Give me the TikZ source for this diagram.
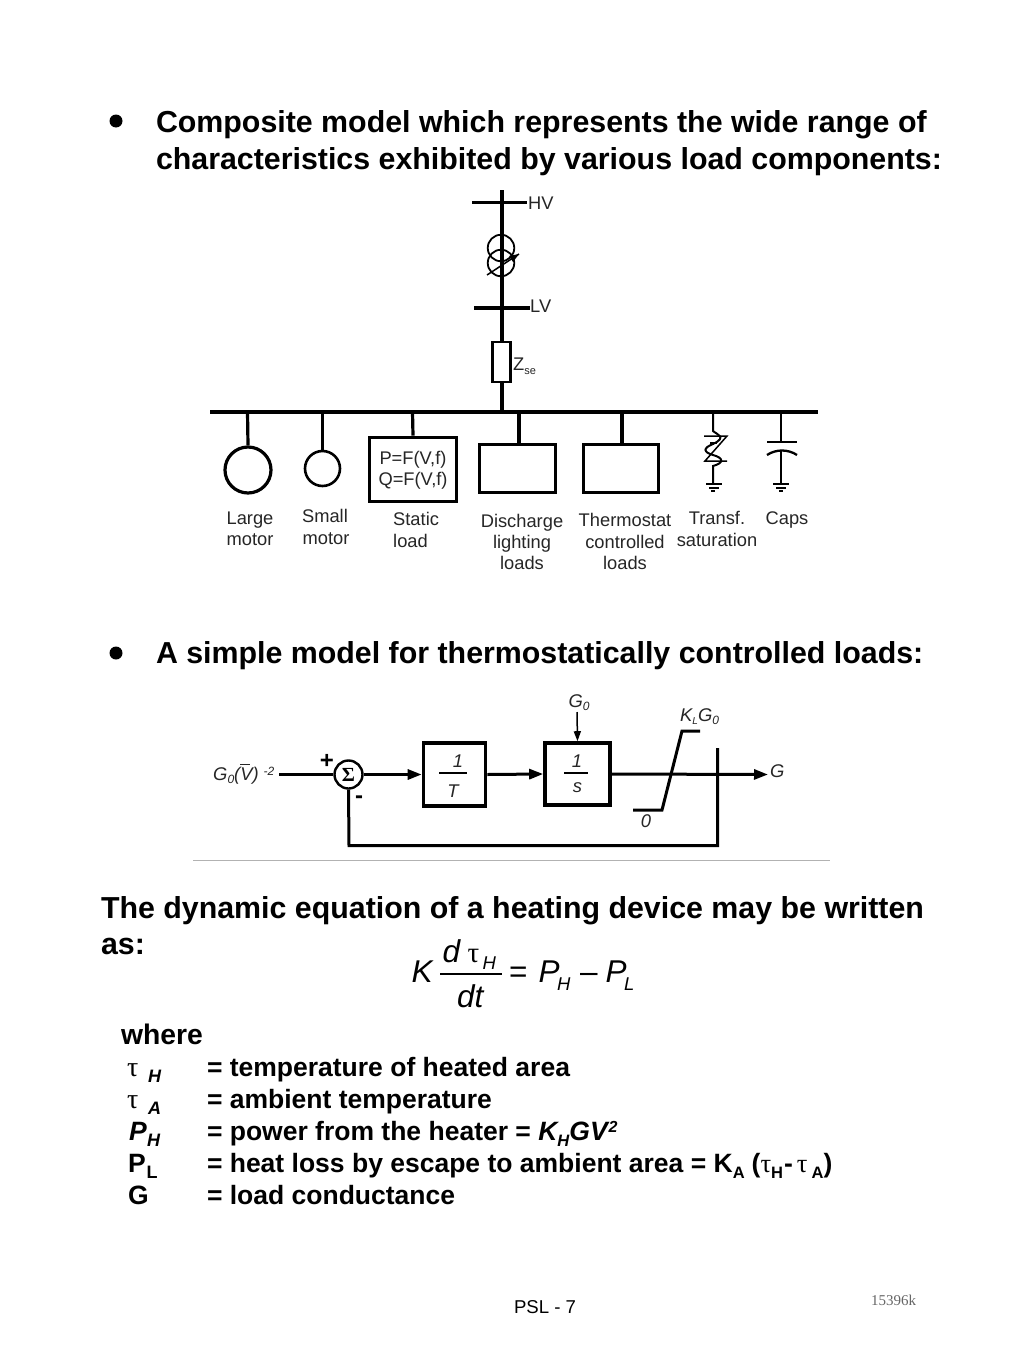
\documentclass[tikz,border=0pt]{standalone}
\usepackage{fontspec}
\setmainfont{Liberation Sans}
\newfontfamily\serifgreek{Liberation Serif}
\usetikzlibrary{arrows.meta}
\newcommand{\fs}[1]{\fontsize{#1}{#1}\selectfont}
\newcommand{\tauG}{{\serifgreek\mdseries\upshape τ}}
\newcommand{\subA}[1]{\raisebox{-6pt}{\fs{16.5}#1}}
\newcommand{\subE}[1]{\hspace{-2.5pt}\raisebox{-8pt}{\fs{18.5}#1}}
\tikzset{
  x=1pt,y=-1pt,
  txt/.style={inner sep=0pt,outer sep=0pt,anchor=base west,align=left},
  head/.style={txt,font=\fs{30.35}\bfseries},
  body/.style={txt,font=\fs{26.5}\bfseries},
  lab/.style={inner sep=0pt,anchor=base,align=center,font=\fs{18.3},text=black!85},
  blk/.style={inner sep=0pt,anchor=base,font=\fs{18.4}\itshape,text=black!85},
  eq/.style={txt,font=\fs{31.5}\itshape},
  eqs/.style={txt,font=\fs{18.5}\itshape},
  wire/.style={line width=3pt,black},
  lwire/.style={line width=3.2pt,black},
  thick wire/.style={line width=3.6pt,black},
  thin wire/.style={line width=2pt,black},
  box/.style={draw=black,line width=3.6pt,fill=white,inner sep=0pt},
  tip/.style={-{Triangle[length=14pt,width=10pt]}},
}
\begin{document}
\begin{tikzpicture}
\useasboundingbox (0,0) rectangle (1024,1365);
\path[fill=white] (0,0) rectangle (1024,1365);
% headings
\node[inner sep=0pt,circle,fill=black,minimum size=13pt] (b1) at (116,121) {};
\node[head] (h1) at (156,132) {Composite model which represents the wide range of};
\node[head] (h2) at (156,169) {characteristics exhibited by various load components:};
\node[inner sep=0pt,circle,fill=black,minimum size=13pt] (b2) at (116,653) {};
\node[head] (h3) at (156,663) {A simple model for thermostatically controlled loads:};
% one-line diagram
\coordinate (top) at (502,190);
\coordinate (busj) at (502,412);
\coordinate (busL) at (210,412);
\coordinate (busR) at (818,412);
\draw[thick wire] (top) -- (busj);
\draw[thick wire] (busL) -- (busR);
\coordinate (hvL) at (472,202.5); \coordinate (hvR) at (527,202.5);
\coordinate (lvL) at (474,308); \coordinate (lvR) at (530,308);
\draw[thick wire] (hvL) -- (hvR);
\draw[thick wire] (lvL) -- (lvR);
\node[lab,anchor=base west] (hv) at (528,209) {HV};
\node[lab,anchor=base west] (lv) at (530,312) {LV};
\node[circle,draw=black,line width=1.8pt,minimum size=26.5pt,inner sep=0pt] (tr1) at (501,248) {};
\node[circle,draw=black,line width=1.8pt,minimum size=26.5pt,inner sep=0pt] (tr2) at (501,263) {};
\coordinate (ta) at (487,275); \coordinate (tb) at (519,254);
\draw[line width=1.5pt] (ta) -- (tb);
\fill (519,254) -- (509,256) -- (513,262) -- cycle;
\node[draw=black,line width=2.8pt,fill=white,minimum width=17.5pt,minimum height=40pt,inner sep=0pt] (zse) at (501.5,362) {};
\node[lab,anchor=base west] (zl) at (513,370) {Z\raisebox{-4pt}{\fs{11}se}};
% loads
\node[circle,draw=black,line width=3.2pt,minimum size=46pt,inner sep=0pt] (lm) at (248,470) {};
\node[circle,draw=black,line width=2.6pt,minimum size=35pt,inner sep=0pt] (sm) at (322.5,468.5) {};
\node[box,minimum width=87pt,minimum height=64pt] (sl) at (413,469.5) {};
\node[draw=black,line width=2.8pt,minimum width=76pt,minimum height=48pt,inner sep=0pt] (dl) at (517.5,468.5) {};
\node[draw=black,line width=2.8pt,minimum width=75pt,minimum height=48pt,inner sep=0pt] (tl) at (621,468.5) {};
\draw[lwire] (247.5,412) -- (lm.north);
\draw[lwire] (322.5,412) -- (sm.north);
\draw[lwire] (412.5,412) -- (sl.north);
\draw[lwire] (519,412) -- (519,444);
\draw[lwire] (622,412) -- (622,444);
\node[lab] (sl1) at (413,464) {P=F(V,f)};
\node[lab] (sl2) at (413,485) {Q=F(V,f)};
% saturation branch
\coordinate (sa) at (713,412); \coordinate (sg) at (713,483);
\draw[thin wire] (sa) -- (713,431) .. controls (716,434) and (728,437) .. (713,444) .. controls (703,448) and (703,452) .. (713,455) .. controls (724,458) and (724,463) .. (713,466) -- (sg);
\draw[line width=1.5pt] (704,436) -- (727,436) -- (705,461) -- (727,461);
\draw[line width=1.5pt] (710,443) -- (717,443);
\draw[thin wire] (706,484) -- (722,484);
\draw[thin wire] (709,487.5) -- (719,487.5);
\draw[thin wire] (711,491) -- (715,491);
% cap branch
\coordinate (ca) at (781,412); \coordinate (cb) at (781,442);
\draw[thin wire] (ca) -- (cb);
\draw[line width=2.3pt] (767,442) -- (797,442);
\draw[line width=2.3pt] (767,455) .. controls (776,449) and (788,449) .. (797,455);
\coordinate (cc) at (781,451); \coordinate (cg) at (781,483);
\draw[thin wire] (cc) -- (cg);
\draw[thin wire] (773,484) -- (789,484);
\draw[thin wire] (776,487.5) -- (786,487.5);
\draw[thin wire] (779,491) -- (783,491);
% load labels
\node[lab] (a1) at (250,524) {Large};
\node[lab] (a2) at (250,545) {motor};
\node[lab] (b1l) at (325,522) {Small};
\node[lab] (b2l) at (326,544) {motor};
\node[lab,anchor=base west] (c1) at (393,525) {Static};
\node[lab,anchor=base west] (c2) at (393,547) {load};
\node[lab] (d1) at (522,527) {Discharge};
\node[lab] (d2) at (522,548) {lighting};
\node[lab] (d3) at (522,569) {loads};
\node[lab] (e1) at (625,526) {Thermostat};
\node[lab] (e2) at (625,548) {controlled};
\node[lab] (e3) at (625,569) {loads};
\node[lab] (f1) at (717,524) {Transf.};
\node[lab] (f2) at (717,546) {saturation};
\node[lab] (g1) at (787,524) {Caps};
% block diagram
\node[blk,anchor=base west] (in) at (213,780) {G\raisebox{-3pt}{\fs{12}0}(\rlap{\raisebox{15.5pt}{\rule{10pt}{0.9pt}}}V)\hspace{5pt}\raisebox{5pt}{\fs{12}-2}};
\node[circle,draw=black,line width=2.4pt,minimum size=28pt,inner sep=0pt,fill=white,font=\fs{20}\bfseries\serifgreek] (sum) at (348.5,774.5) {Σ};
\coordinate (instart) at (279,774.5);
\draw[wire] (instart) -- (sum.west);
\node[inner sep=0pt,anchor=base,font=\fs{24}\bfseries] (plus) at (327,768) {+};
\node[inner sep=0pt,anchor=base,font=\fs{24}\bfseries] (minus) at (359,803) {-};
\node[box,minimum width=62pt,minimum height=63pt] (bt) at (454.5,774.5) {};
\node[box,minimum width=65pt,minimum height=62pt] (bs) at (577.5,774) {};
\draw[wire,tip] (sum.east) -- (bt.west);
\draw[wire,tip] (bt.east) -- (bs.west);
\node[blk] (t1) at (458,767) {1};
\node[blk] (t2) at (453,797) {T};
\coordinate (tfa) at (439,773); \coordinate (tfb) at (467,773);
\draw[line width=2pt] (tfa) -- (tfb);
\node[blk] (s1) at (577,767) {1};
\node[blk] (s2) at (577.5,792) {s};
\coordinate (sfa) at (564,773); \coordinate (sfb) at (588,773);
\draw[line width=2pt] (sfa) -- (sfb);
\node[blk] (g0) at (579,707) {G\raisebox{-3pt}{\fs{12}0}};
\draw[line width=1.5pt,-{Triangle[length=10pt,width=7pt]}] (577,712) -- (bs.north);
\coordinate (gout) at (768,774.5);
\node[blk,anchor=base west] (gl) at (770,777.5) {G};
\draw[wire,tip] (bs.east) -- (gout);
\draw[wire] (633,810) -- (662,810) -- (682,731) -- (700,731);
\node[blk] (z0) at (646,827) {0};
\node[blk,anchor=base west] (kl) at (680,721) {K\raisebox{-3pt}{\fs{10}L}G\raisebox{-3pt}{\fs{12}0}};
\coordinate (fbt) at (717.5,748);
\draw[wire] (fbt) -- (717.5,845.5) -- (349,845.5) -- (sum.south);
\coordinate (ru1) at (193,860); \coordinate (ru2) at (830,860);
\draw[line width=0.8pt,black!30] (ru1) -- (ru2);
% equation
\node[head] (p1) at (101,918) {The dynamic equation of a heating device may be written};
\node[head] (p2) at (101,954) {as:};
\node[eq] (ek) at (411.5,982) {K};
\node[eq] (en) at (442.5,962) {d};
\node[eq,font=\fs{29}\serifgreek] (entau) at (467.5,962) {τ};
\node[eqs] (ensub) at (482.5,969) {H};
\coordinate (efa) at (440,974); \coordinate (efb) at (502,974);
\draw[line width=1.3pt] (efa) -- (efb);
\node[eq] (ed) at (457,1007) {dt};
\node[eq,font=\fs{31.5}] (eeq) at (509,982) {=};
\node[eq] (ep1) at (538.5,982) {P\subE{H}};
\node[eq,font=\fs{31.5}] (eminus) at (580,982) {–};
\node[eq] (ep2) at (605.5,982) {P\subE{L}};
% where
\node[body,font=\fs{28.3}\bfseries] (w) at (121,1044) {where};
\node[txt,font=\fs{28}\serifgreek] (s1t) at (127,1076) {τ};
\node[txt,font=\fs{18}\bfseries\itshape] (s1s) at (148,1082) {H};
\node[txt,font=\fs{28}\serifgreek] (s2t) at (127,1108) {τ};
\node[txt,font=\fs{18}\bfseries\itshape] (s2s) at (148,1114) {A};
\node[txt,font=\fs{26.5}\bfseries\itshape] (s3t) at (129,1140) {P};
\node[txt,font=\fs{18}\bfseries\itshape] (s3s) at (147,1146) {H};
\node[txt,font=\fs{26.5}\bfseries] (s4t) at (128,1172) {P};
\node[txt,font=\fs{18}\bfseries] (s4s) at (146.5,1178) {L};
\node[txt,font=\fs{26.5}\bfseries] (s5t) at (128,1204) {G};
\node[body] (d1t) at (207,1076) {= temperature of heated area};
\node[body] (d2t) at (207,1108) {= ambient temperature};
\node[body] (d3t) at (207,1140) {= power from the heater = {\itshape K\raisebox{-6pt}{\fs{16.5}H}GV\raisebox{8pt}{\fs{16}\hspace{1pt}2}}};
\node[body] (d4t) at (207,1172) {= heat loss by escape to ambient area = K\subA{A}\hspace{7pt}(\tauG\subA{H}\hspace{1pt}-\hspace{4pt}\tauG\hspace{4pt}\subA{A})};
\node[body] (d5t) at (207,1204) {= load conductance};
% footer
\node[txt,font=\fs{18.6}] (psl) at (514,1313) {PSL - 7};
\node[txt,font=\fs{15}\serifgreek,text=black!60] (ref) at (871,1305) {15396k};
\end{tikzpicture}
\end{document}
